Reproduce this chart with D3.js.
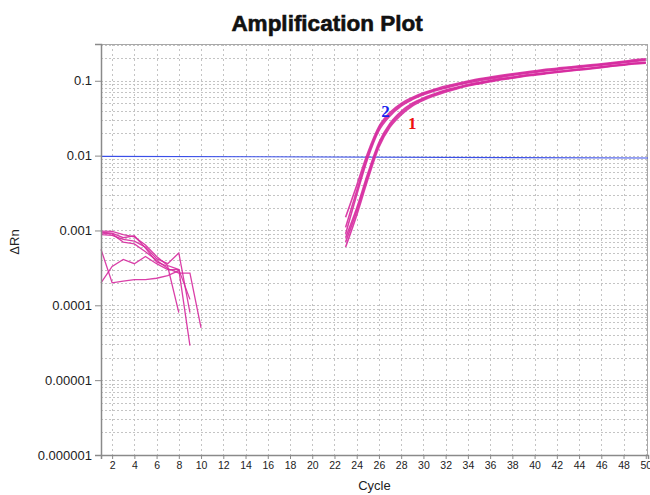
<!DOCTYPE html>
<html>
<head>
<meta charset="utf-8">
<script src="https://cdn.jsdelivr.net/npm/d3@7"></script>
<style>
  html, body { margin: 0; padding: 0; background: #fff; }
  svg { display: block; }
</style>
</head>
<body>
<svg id="chart" width="650" height="495"></svg>
<script>
// ---- data ----
const titleText = "Amplification Plot";
const xLabel = "Cycle";
const yLabel = "ΔRn";
const xTicks = [2,4,6,8,10,12,14,16,18,20,22,24,26,28,30,32,34,36,38,40,42,44,46,48,50];
const yTicks = [0.1, 0.01, 0.001, 0.0001, 0.00001, 0.000001];
const yTickLabels = ["0.1", "0.01", "0.001", "0.0001", "0.00001", "0.000001"];

const ampCycles = [23,24,25,26,27,28,29,30,31,32,33,34,35,36,37,38,39,40,41,42,43,44,45,46,47,48,49,50];
// group "2" (earlier)
const g2a = [0.0015,0.0040,0.0110,0.0245,0.038,0.050,0.060,0.069,0.077,0.085,0.092,0.099,0.106,0.112,0.118,0.124,0.130,0.136,0.142,0.147,0.153,0.158,0.163,0.169,0.175,0.182,0.190,0.196];
const g2b = [0.0011,0.0034,0.0100,0.0230,0.036,0.048,0.058,0.067,0.075,0.082,0.089,0.096,0.103,0.109,0.115,0.121,0.127,0.132,0.138,0.143,0.149,0.154,0.159,0.165,0.171,0.178,0.185,0.191];
const g2c = [0.0009,0.0030,0.0092,0.0215,0.034,0.046,0.056,0.065,0.073,0.080,0.087,0.094,0.100,0.106,0.112,0.118,0.124,0.129,0.135,0.140,0.146,0.151,0.156,0.162,0.168,0.174,0.181,0.187];
// group "1" (later)
const g1a = [0.0008,0.0020,0.0058,0.0150,0.027,0.039,0.050,0.059,0.067,0.075,0.082,0.089,0.095,0.101,0.107,0.112,0.118,0.123,0.128,0.133,0.138,0.143,0.148,0.154,0.160,0.166,0.172,0.176];
const g1b = [0.0007,0.0018,0.0053,0.0140,0.0255,0.037,0.048,0.057,0.065,0.073,0.080,0.087,0.093,0.099,0.105,0.110,0.116,0.121,0.126,0.131,0.136,0.141,0.146,0.152,0.158,0.164,0.170,0.174];
const g1c = [0.0006,0.0016,0.0048,0.0130,0.024,0.035,0.046,0.055,0.063,0.071,0.078,0.085,0.091,0.097,0.103,0.108,0.114,0.119,0.124,0.129,0.134,0.139,0.144,0.150,0.156,0.162,0.168,0.172];

// early-cycle noise traces (cycles 1..n)
const n1 = [0.00098,0.00097,0.00088,0.00082,0.00064,0.00045,0.00034,0.00030,0.000029];
const n2 = [0.00095,0.00092,0.00080,0.00085,0.00058,0.00038,0.00033,0.00008];
const n3 = [0.00088,0.00086,0.00076,0.00072,0.00060,0.00042,0.00036,0.00050,0.00008];
const n4 = [0.00092,0.00090,0.00070,0.00066,0.00052,0.00040,0.00031,0.00027,0.00027,0.00005];
const n5 = [0.00056,0.00020,0.00021,0.00022,0.00022,0.00023,0.00025,0.00029];
const n6 = [0.00020,0.00033,0.00041,0.00036,0.00045,0.00036,0.00030,0.00030,0.00012];

const thresholdCycles = [1, 50.2];
const thresholdValues = [0.0098, 0.0093];

const annotations = [
  {text: "2", cycle: 26.6, value: 0.040, color: "#1a22ee"},
  {text: "1", cycle: 29.0, value: 0.027, color: "#ee1111"}
];

// ---- layout ----
const svg = d3.select("#chart");
const pL = 101, pR = 648, pT = 44, pB = 455;

const x = d3.scaleLinear().domain([1, 50.2]).range([pL, pR]);
const y = d3.scaleLog().domain([0.000001, 0.31]).range([pB, pT]);

// background
svg.append("rect").attr("x", 0).attr("y", 0).attr("width", 650).attr("height", 495).attr("fill", "#fff");

// grid
const grid = svg.append("g");
const minor = [];
[-6,-5,-4,-3,-2,-1].forEach(e => { for (let m = 1; m <= 9; m++) { const v = m * Math.pow(10, e); if (v <= 0.31) minor.push(v); } });
grid.selectAll("line.h").data(minor).join("line")
  .attr("x1", pL).attr("x2", pR)
  .attr("y1", d => Math.round(y(d)) + 0.5).attr("y2", d => Math.round(y(d)) + 0.5)
  .attr("stroke", "#c4c4c4").attr("stroke-width", 1).attr("stroke-dasharray", "2,2");
grid.selectAll("line.v").data(xTicks).join("line")
  .attr("y1", pT).attr("y2", pB)
  .attr("x1", d => Math.round(x(d)) + 0.5).attr("x2", d => Math.round(x(d)) + 0.5)
  .attr("stroke", "#c4c4c4").attr("stroke-width", 1).attr("stroke-dasharray", "2,3");

// frame
svg.append("rect").attr("x", pL + 0.5).attr("y", pT + 0.5)
  .attr("width", pR - pL - 1).attr("height", pB - pT)
  .attr("fill", "none").attr("stroke", "#a8a8a8");

// threshold
svg.append("line")
  .attr("x1", x(thresholdCycles[0])).attr("x2", x(thresholdCycles[1]))
  .attr("y1", y(thresholdValues[0])).attr("y2", y(thresholdValues[1]))
  .attr("stroke", "#3a4fe8").attr("stroke-width", 1.2);

// curves
const magenta = "#d62a9f";
const lineSmooth = d3.line().x(d => x(d[0])).y(d => y(d[1])).curve(d3.curveMonotoneX);
const lineStraight = d3.line().x(d => x(d[0])).y(d => y(d[1]));

[g2a, g2b, g2c, g1a, g1b, g1c].forEach(vals => {
  svg.append("path").datum(vals.map((v, i) => [ampCycles[i], v]))
    .attr("d", lineSmooth).attr("fill", "none")
    .attr("stroke", magenta).attr("stroke-width", 1.6).attr("stroke-opacity", 0.9);
});
[n1, n2, n3, n4, n5, n6].forEach(vals => {
  svg.append("path").datum(vals.map((v, i) => [i + 1, v]))
    .attr("d", lineStraight).attr("fill", "none")
    .attr("stroke", magenta).attr("stroke-width", 1.3).attr("stroke-opacity", 0.9);
});

// annotations
annotations.forEach(a => {
  svg.append("text").attr("x", x(a.cycle)).attr("y", y(a.value))
    .attr("text-anchor", "middle").attr("dy", "0.35em")
    .attr("font-family", "Liberation Serif, Times New Roman, serif")
    .attr("font-weight", "bold").attr("font-size", 17)
    .attr("fill", a.color).text(a.text);
});

// axes
const xAxis = d3.axisBottom(x).tickValues(xTicks).tickSize(4).tickPadding(3).tickFormat(d3.format("d"));
const gx = svg.append("g").attr("transform", `translate(0,${pB})`).call(xAxis);
gx.select(".domain").attr("stroke", "#8a8a8a").attr("stroke-width", 1.5);
gx.selectAll(".tick line").attr("stroke", "#8a8a8a");
gx.selectAll("text").attr("font-family", "Liberation Sans, Arial, sans-serif").attr("font-size", 10.5).attr("fill", "#222");

const yAxis = d3.axisLeft(y).tickValues(yTicks).tickSize(6).tickPadding(3).tickFormat((d, i) => yTickLabels[i]);
const gy = svg.append("g").attr("transform", `translate(${pL},0)`).call(yAxis);
gy.select(".domain").attr("stroke", "#8a8a8a").attr("stroke-width", 1.5);
gy.selectAll(".tick line").attr("stroke", "#8a8a8a");
gy.selectAll("text").attr("font-family", "Liberation Sans, Arial, sans-serif").attr("font-size", 13).attr("fill", "#222");

// titles
svg.append("text").attr("x", 327).attr("y", 31).attr("text-anchor", "middle")
  .attr("font-family", "Liberation Sans, Arial, sans-serif").attr("font-weight", "bold")
  .attr("font-size", 22.5).attr("fill", "#111")
  .attr("stroke", "#111").attr("stroke-width", 0.6).text(titleText);
svg.append("text").attr("x", (pL + pR) / 2).attr("y", 490).attr("text-anchor", "middle")
  .attr("font-family", "Liberation Sans, Arial, sans-serif")
  .attr("font-size", 13).attr("fill", "#222").text(xLabel);
svg.append("text").attr("transform", "translate(19,242) rotate(-90)").attr("text-anchor", "middle")
  .attr("font-family", "Liberation Sans, Arial, sans-serif")
  .attr("font-size", 13).attr("fill", "#222").text(yLabel);
</script>
</body>
</html>
